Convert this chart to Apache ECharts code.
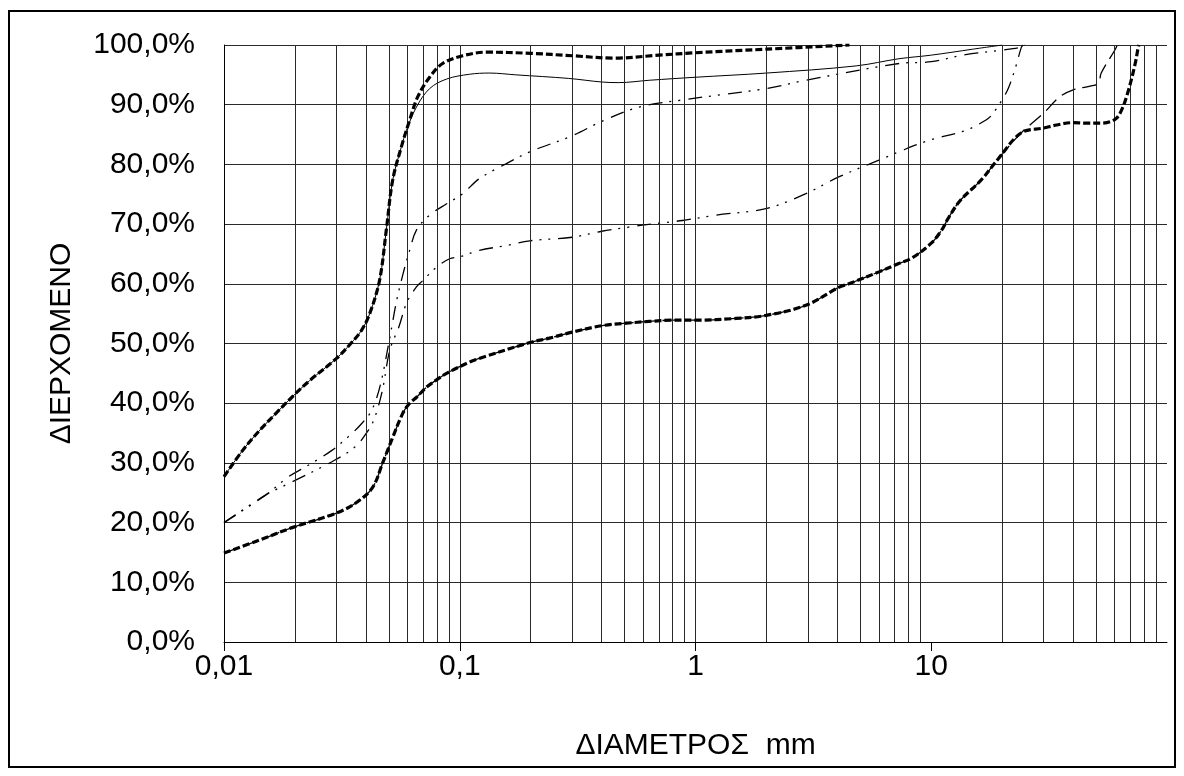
<!DOCTYPE html>
<html><head><meta charset="utf-8">
<script src="https://cdn.jsdelivr.net/npm/echarts@6/dist/echarts.min.js"></script>
<style>html,body{margin:0;padding:0;background:#fff}#c{width:1184px;height:776px}</style>
</head><body><div id="c"></div>
<script>
const yTitle = 'ΔΙΕΡΧΟΜΕΝΟ';
const xTitle = 'ΔΙΑΜΕΤΡΟΣ  mm';
const majorTicks = [0.01, 0.1, 1, 10];
const minorGrid = [0.02,0.03,0.04,0.05,0.06,0.07,0.08,0.09,
                   0.2,0.3,0.4,0.5,0.6,0.7,0.8,0.9,
                   2,3,4,5,6,7,8,9,
                   20,30,40,50,60,70,80,90];

// Series A: thick dashed (upper)
const aX = [0.01,0.012,0.0142,0.0168,0.0194,0.0231,0.03,0.0345,0.0383,0.0415,0.0457,0.0488,0.0519,0.0565,0.0613,0.0663,0.0745,0.0846,0.103,0.13,0.2,0.3,0.45,0.7,1,2,4.5];
const aY = [27.7,32.1,35.5,38.5,41,43.8,47.5,50,52.2,55,60.6,69,77.3,82.9,87.4,91.3,94.6,96.9,98.2,98.8,98.6,98.2,97.8,98.3,98.7,99.3,100];

// Series B: thin solid
const bX = [0.01,0.012,0.0142,0.0168,0.0194,0.0231,0.03,0.0345,0.0383,0.0415,0.0457,0.0488,0.0519,0.0565,0.0594,0.0655,0.0745,0.088,0.11,0.134,0.173,0.29,0.4,0.47,0.64,1,2,4.8,7.3,10,15,20];
const bY = [27.7,32.1,35.5,38.5,41,43.8,47.5,50,52.2,55,60.6,69,77.3,82.9,85.7,89.6,92.7,94.3,95.1,95.3,95.0,94.4,93.8,93.7,94.1,94.6,95.3,96.5,97.7,98.3,99.3,100];

// Series C: dash-dot-dot (upper thin)
const cX = [0.01,0.015,0.0188,0.0221,0.0287,0.0337,0.0384,0.0423,0.046,0.0505,0.054,0.0575,0.0613,0.0655,0.0745,0.088,0.103,0.121,0.157,0.198,0.3,0.4,0.577,0.88,1.3,2,2.94,7.3,10,14,19.5,24,25];
const cY = [20,24.6,27.7,29.3,32.1,34.4,36.6,38.8,43,51,57.2,61.7,65.6,69,71.5,73.4,75.1,77.6,80.1,82.1,84.8,87.2,89.6,90.8,91.7,92.7,94.1,96.9,97.2,98.4,99.1,99.6,100];

// Series D: dash-dot-dot (lower thin)
const dX = [0.01,0.015,0.0194,0.0287,0.036,0.041,0.0437,0.047,0.0505,0.0552,0.0594,0.0655,0.07,0.0797,0.0906,0.0999,0.121,0.157,0.198,0.3,0.4,0.52,0.68,0.88,1.22,1.99,2.94,4.05,6,7.28,9.75,14,17,18,19.9,21.3,22.8,24.1,24.5];
const dY = [20,24.6,26.8,30.2,32.7,35.5,37.7,42.2,48.9,52.8,56.7,59.5,60.6,62.8,64.2,64.5,65.6,66.4,67.2,67.8,68.8,69.5,70.1,70.6,71.5,72.6,75.1,77.9,80.7,82.1,84,85.7,87.4,88.2,90.7,92.9,96.3,99.6,100];

// Series E: thick dashed (lower)
const eX = [0.01,0.0142,0.0196,0.03,0.0366,0.0427,0.0471,0.0514,0.0573,0.0613,0.0656,0.0724,0.0797,0.0879,0.11,0.121,0.2,0.24,0.3,0.403,0.508,0.636,0.796,1.007,1.486,1.99,2.94,4.05,4.47,6,7.28,8.26,10,11.07,11.85,13.3,16.3,19.3,24.1,30,34,40,45,52,60,64,68.5,73.3,75.5,76];
const eY = [14.9,17.1,19.2,21.6,23.4,25.9,30,33.8,38.3,40,41,42.7,43.9,45,46.9,47.5,50.2,50.9,51.9,53,53.4,53.7,53.9,53.9,54.2,54.7,56.4,59.4,60,62,63.4,64.3,66.8,69,71.1,74,77.4,81,85.3,86.1,86.6,87,86.9,86.9,87.5,89,92.3,96.9,99.6,100];

// Series F: thin long dash
const fX = [0.01,0.0142,0.0196,0.03,0.0366,0.0427,0.0471,0.0514,0.0573,0.0613,0.0656,0.0724,0.0797,0.0879,0.11,0.121,0.2,0.24,0.3,0.403,0.508,0.636,0.796,1.007,1.486,1.99,2.94,4.05,4.47,6,7.28,8.26,10,11.07,11.85,13.3,16.3,19.3,24.1,30,35,40,47.2,51.2,52.6,60.2,61.5];
const fY = [14.9,17.1,19.2,21.6,23.4,25.9,30,33.8,38.3,40,41,42.7,43.9,45,46.9,47.5,50.2,50.9,51.9,53,53.4,53.7,53.9,53.9,54.2,54.7,56.4,59.4,60,62,63.4,64.3,66.8,69,71.1,74,77.4,81,85.3,88.6,91.3,92.5,93.1,93.6,95.3,99.2,100];

const pairs = (xs, ys) => xs.map((x, i) => [x, ys[i]]);
const FONT = '"Liberation Sans", Arial, sans-serif';
const GRID = '#2a2a2a';

const chart = echarts.init(document.getElementById('c'), null, {renderer: 'canvas'});

function lineSeries(name, xs, ys, width, dash, z) {
  return {
    name, type: 'line', data: pairs(xs, ys), smooth: 0.35, showSymbol: false, symbol: 'none',
    z: z, silent: true,
    lineStyle: {color: '#000', width: width, type: dash, cap: 'butt'}
  };
}

chart.setOption({
  animation: false,
  backgroundColor: '#fff',
  graphic: [{
    type: 'rect', shape: {x: 9, y: 11, width: 1166, height: 756},
    style: {fill: 'none', stroke: '#000', lineWidth: 2}, z: 100
  }],
  grid: {left: 224, right: 17, top: 45, bottom: 134, containLabel: false},
  xAxis: {
    type: 'log', logBase: 10, min: 0.01, max: 100,
    name: xTitle, nameLocation: 'middle', nameGap: 89,
    nameTextStyle: {fontFamily: FONT, fontSize: 30, color: '#000'},
    axisLine: {show: true, lineStyle: {color: '#000', width: 1}},
    axisTick: {show: true, length: 9, lineStyle: {color: '#000'}, customValues: majorTicks},
    axisLabel: {
      customValues: majorTicks,
      fontFamily: FONT, fontSize: 30, color: '#000', margin: 10,
      formatter: v => String(+(+v).toPrecision(6)).replace('.', ',')
    },
    splitLine: {show: true, showMaxLine: false, lineStyle: {color: GRID, width: 1}},
    minorTick: {show: false}
  },
  yAxis: {
    type: 'value', min: 0, max: 100, interval: 10,
    name: yTitle, nameLocation: 'middle', nameGap: 147,
    nameTextStyle: {fontFamily: FONT, fontSize: 30, color: '#000'},
    axisLine: {show: true, lineStyle: {color: '#000', width: 1}},
    axisTick: {show: false},
    axisLabel: {
      fontFamily: FONT, fontSize: 30, color: '#000', margin: 29,
      formatter: v => v.toFixed(1).replace('.', ',') + '%'
    },
    splitLine: {show: true, lineStyle: {color: GRID, width: 1}}
  },
  series: [
    {
      name: 'grid', type: 'line', data: [], z: 1, silent: true,
      markLine: {
        silent: true, symbol: ['none', 'none'], animation: false,
        label: {show: false},
        lineStyle: {color: GRID, width: 1, type: 'solid'},
        emphasis: {disabled: true},
        data: minorGrid.map(v => ({xAxis: v}))
      }
    },
    lineSeries('A', aX, aY, 3.2, [7, 3], 5),
    lineSeries('B', bX, bY, 1, 'solid', 4),
    lineSeries('C', cX, cY, 1.3, [14, 7, 2, 7, 2, 8], 4),
    lineSeries('D', dX, dY, 1.3, [14, 7, 2, 7, 2, 8], 4),
    lineSeries('F', fX, fY, 1.3, [15, 7], 4),
    lineSeries('E', eX, eY, 3.2, [7, 3], 5)
  ]
});
</script>
</body></html>
